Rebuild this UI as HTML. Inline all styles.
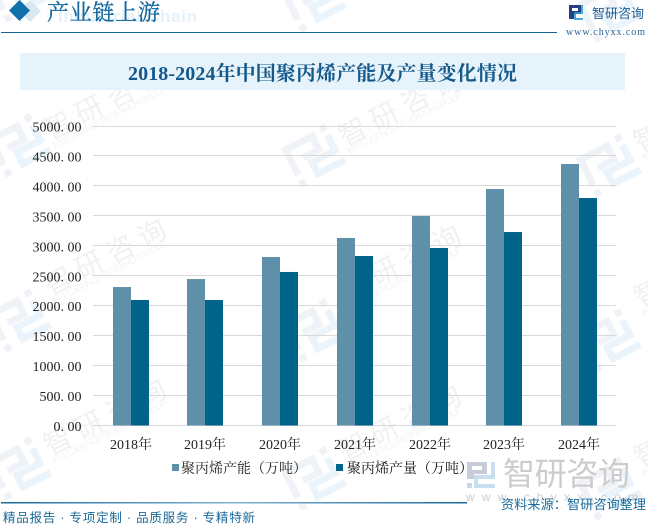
<!DOCTYPE html>
<html lang="zh">
<head>
<meta charset="utf-8">
<title>2018-2024年中国聚丙烯产能及产量变化情况</title>
<style>
html,body{margin:0;padding:0;background:#fff}
#page{position:relative;width:648px;height:525px;overflow:hidden;background:#fff}
svg{position:absolute;left:0;top:0}
.tick{font-family:"Liberation Serif","Noto Serif CJK SC",serif;font-size:14px;fill:#222}
.serif{font-family:"Liberation Serif","Noto Serif CJK SC",serif}
.sans{font-family:"Liberation Sans","Noto Sans CJK SC",sans-serif}
</style>
</head>
<body>
<div id="page">
<svg id="chart" width="648" height="525" viewBox="0 0 648 525">
  <defs>
    <linearGradient id="footerGrad" x1="0" x2="1" y1="0" y2="0">
      <stop offset="0" stop-color="#1d6b9c"/>
      <stop offset="0.5" stop-color="#7fb2d2"/>
      <stop offset="1" stop-color="#1d6b9c"/>
    </linearGradient>
  </defs>
  <g id="watermarks"></g>

  <g>
    <polygon points="30,0 41,11 30,22 19,11" fill="#d8e7f0"/>
    <polygon points="19.500,0 30,10.500 19.500,21 9,10.500" fill="#1070aa"/>
    <text x="58" y="22" class="sans" font-size="17" font-weight="bold" fill="#e6f2fa" textLength="139">Industrial Chain</text>
    <text x="47" y="20" class="serif" font-size="22" fill="#14689e" stroke="#14689e" stroke-width="0.35" textLength="113">产业链上游</text>
    <rect x="1" y="32" width="556" height="1" fill="#0f659b"/>
    <g>
      <path d="M569 5h12v9h-7v5h-5zM572 8v3h6v-3z" fill="#27407f"/>
      <path d="M581 5h2v9h-7v4h7v2h-9v-8h7z" fill="#2a9ad0" opacity=".85"/>
    </g>
    <text x="592" y="18" class="sans" font-size="13" fill="#1f5d94" textLength="52">智研咨询</text>
    <text x="566" y="35" class="serif" font-size="10" fill="#2f6695" textLength="79">www.chyxx.com</text>
  </g>

  <g>
    <rect x="20" y="53" width="605" height="37" fill="#e6f3fb"/>
    <text x="128" y="80" class="serif" font-size="20" font-weight="bold" fill="#14598a" textLength="389">2018-2024年中国聚丙烯产能及产量变化情况</text>
  </g>

  <g id="grid"></g>
  <g id="yticks"></g>
  <g id="bars"></g>
  <g id="xticks"></g>

  <g>
    <path d="M467 462h20v12h-13v5h-7zM472 466v4h10v-4z" fill="#c8ccd6"/>
    <path d="M491 462h4v17h-17v5h17v4h-21v-13h17z" fill="#c9dff0"/>
    <rect x="467" y="483" width="5" height="5" fill="#c8d6e6"/>
    <text x="503" y="485" class="sans" font-size="32" fill="#cccccc" textLength="127">智研咨询</text>
    <text x="466" y="501" class="sans" font-size="12" fill="#cccccc" textLength="172">www.chyxx.com</text>
  </g>

  <g>
    <rect x="172" y="464" width="7" height="7" fill="#5e90a9"/>
    <text x="181" y="473" class="serif" font-size="14" fill="#222" textLength="126">聚丙烯产能（万吨）</text>
    <rect x="336" y="464" width="7" height="7" fill="#006389"/>
    <text x="347" y="473" class="serif" font-size="14" fill="#111" textLength="126">聚丙烯产量（万吨）</text>
  </g>

  <rect x="1" y="502" width="466" height="1.500" fill="url(#footerGrad)"/>
  <text x="501" y="509" class="sans" font-size="13" fill="#1a6a9a" textLength="145">资料来源：智研咨询整理</text>
  <text x="3" y="522" class="sans" font-size="12.5" fill="#1a6a9a" textLength="252">精品报告 · 专项定制 · 品质服务 · 专精特新</text>
</svg>
</div>
<script>
const categories = ['2018年', '2019年', '2020年', '2021年', '2022年', '2023年', '2024年'];
const capacity = [2312, 2445, 2813, 3130, 3497, 3948, 4366];
const output = [2095, 2095, 2563, 2830, 2963, 3230, 3798];
const tickValues = [0, 500, 1000, 1500, 2000, 2500, 3000, 3500, 4000, 4500, 5000];

const NS = 'http://www.w3.org/2000/svg';
const plot = {left: 93, right: 616, top: 126, bottom: 425.5, max: 5000};
const barWidth = 18;

function yScale(v) {
  return plot.bottom - (v / plot.max) * (plot.bottom - plot.top);
}
function xCenter(i) {
  return Math.round(plot.left + (plot.right - plot.left) * (i + 0.5) / categories.length + 0.3);
}
function make(tag, attrs) {
  const el = document.createElementNS(NS, tag);
  Object.keys(attrs).forEach(function (k) { el.setAttribute(k, attrs[k]); });
  return el;
}

const grid = document.getElementById('grid');
const yticks = document.getElementById('yticks');
tickValues.forEach(function (v) {
  const gy = Math.floor(yScale(v)) + 0.5;
  const line = make('line', {x1: plot.left, x2: plot.right, y1: gy, y2: gy, stroke: '#d9d9d9', 'stroke-width': 1});
  
  
  grid.appendChild(line);
  const parts = v.toFixed(2).split('.');
  const label = make('text', {x: 81.5, y: yScale(v) + 5.5, 'text-anchor': 'end', class: 'tick'});
  
  
  label.textContent = parts[0] + '.';
  const frac = make('tspan', {dx: 3.5});
  frac.textContent = parts[1];
  label.appendChild(frac);
  yticks.appendChild(label);
});

const bars = document.getElementById('bars');
const xticks = document.getElementById('xticks');
categories.forEach(function (c, i) {
  const cx = xCenter(i);
  const a = make('rect', {x: cx - barWidth, y: yScale(capacity[i]), width: barWidth, height: plot.bottom - yScale(capacity[i]), fill: '#5e90a9'});
  
  
  bars.appendChild(a);
  const b = make('rect', {x: cx, y: yScale(output[i]), width: barWidth, height: plot.bottom - yScale(output[i]), fill: '#006389'});
  
  
  bars.appendChild(b);
  const t = make('text', {x: cx, y: 449, 'text-anchor': 'middle', class: 'tick'});
  
  
  t.textContent = c;
  xticks.appendChild(t);
});

/* faint repeating brand watermark: one text block and one logo per tile */
const wmLayer = document.getElementById('watermarks');
const wmColumns = [0, 1, 2];
const wmTextRows = [-23, 141, 296, 456];
const wmLogoRows = [-10, 145, 320, 468];
wmTextRows.forEach(function (rowY) {
  wmColumns.forEach(function (col) {
    const tx = 50 + col * 295;
    const ty = rowY + col * 6;
    const g = make('g', {transform: 'translate(' + tx + ',' + ty + ') rotate(-27)'});
    
    
    const t1 = make('text', {x: 0, y: 0, class: 'sans', 'font-size': 28, fill: '#f1f1f3', 'letter-spacing': '7'});
    t1.textContent = '智研咨询';
    const t2 = make('text', {x: 0, y: 9, class: 'sans', 'font-size': 9.5, fill: '#f5f5f6', textLength: 128});
    t2.textContent = 'INTELLIGENCE RESEARCH GROUP';
    g.appendChild(t1);
    g.appendChild(t2);
    wmLayer.appendChild(g);
  });
});
wmLogoRows.forEach(function (rowY) {
  wmColumns.forEach(function (col) {
    const lx = 20 + col * 295;
    const ly = rowY + col * 10;
    const g = make('g', {transform: 'translate(' + lx + ',' + ly + ') rotate(-27)', fill: 'none', 'stroke-width': 7});
    
    
    const s1 = make('path', {d: 'M-24 10V-18H6V-3H-12', stroke: '#eff2f7'});
    const s2 = make('path', {d: 'M20 -12V5H-6V18H25', stroke: '#eaf4fa'});
    const d1 = make('rect', {x: 16, y: -24, width: 7, height: 7, fill: '#eff2f7'});
    const d2 = make('rect', {x: -27, y: 16, width: 7, height: 7, fill: '#eff2f7'});
    g.appendChild(s1);
    g.appendChild(s2);
    g.appendChild(d1);
    g.appendChild(d2);
    wmLayer.appendChild(g);
  });
});
</script>
</body>
</html>
